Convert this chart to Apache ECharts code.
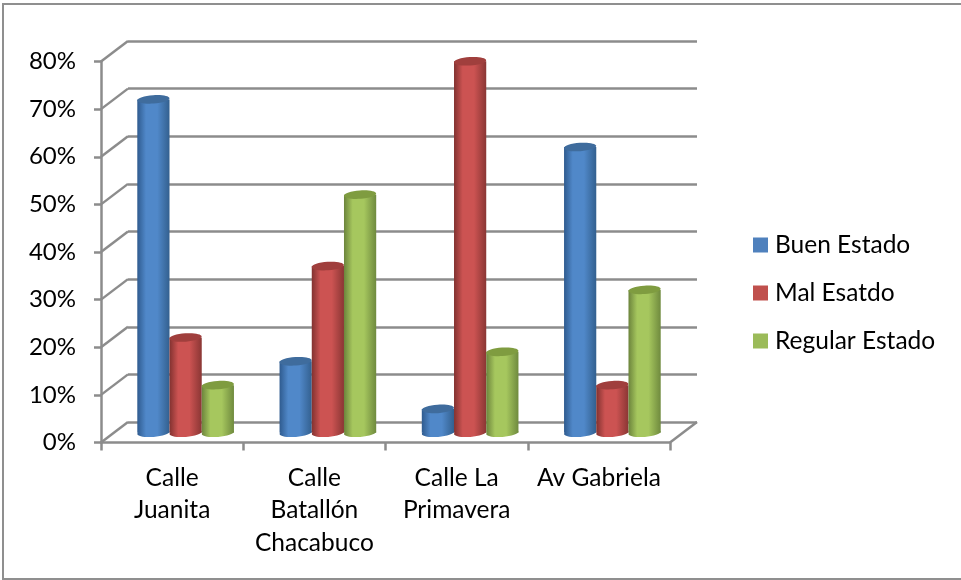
<!DOCTYPE html>
<html>
<head>
<meta charset="utf-8">
<style>html,body{margin:0;padding:0;background:#fff}#c{width:961px;height:580px}</style>
<script src="https://cdn.jsdelivr.net/npm/echarts@6/dist/echarts.min.js"></script>
</head>
<body>
<div id="c"></div>
<script>
var categories = ['Calle\nJuanita', 'Calle\nBatallón\nChacabuco', 'Calle La\nPrimavera', 'Av Gabriela'];
var buenEstado = [70, 15, 5, 60];
var malEstado = [20, 35, 78, 10];
var regularEstado = [10, 50, 17, 30];
var yTicks = [0, 10, 20, 30, 40, 50, 60, 70, 80];
var FONT = 'Lato, "Open Sans", sans-serif';
var LINE = '#8c8c8c';
var LW = 2.5;
var DX = 27, DY = -20.5;

var chart = echarts.init(document.getElementById('c'), null, {renderer: 'canvas'});

function cylinder(seriesPos, edge, mid, edge2, cap) {
  return function (params, api) {
    var i = api.value(0);
    var top = api.coord([i, api.value(1)]);
    var base = api.coord([i, 0]);
    var cat = api.size([1, 0])[0];
    var w = cat * 0.2265;
    var rx = w / 2, ry = 4.2;
    var cx = top[0] + (seriesPos - 1) * w + DX / 2;
    var ty = top[1] + DY / 2 + 0.5;
    var by = base[1] + DY / 2 + 0.5;
    var grad = new echarts.graphic.LinearGradient(0, 0, 1, 0, [
      {offset: 0, color: edge}, {offset: 0.27, color: mid}, {offset: 0.62, color: mid},
      {offset: 1, color: edge2}
    ]);
    return {
      type: 'group',
      children: [
        {type: 'ellipse', shape: {cx: cx, cy: by, rx: rx, ry: ry}, style: {fill: grad},
         rotation: 0.07, originX: cx, originY: by},
        {type: 'rect', shape: {x: cx - rx, y: ty, width: w, height: by - ty}, style: {fill: grad}},
        {type: 'ellipse', shape: {cx: cx, cy: ty, rx: rx, ry: ry}, style: {fill: cap},
         rotation: 0.07, originX: cx, originY: ty}
      ]
    };
  };
}

function cylSeries(name, data, pos, colour, edge, mid, edge2, cap) {
  return {
    type: 'custom', name: name, xAxisIndex: 0, yAxisIndex: 0, z: 5 + pos,
    itemStyle: {color: colour},
    data: data.map(function (v, i) { return [i, v]; }),
    encode: {x: 0, y: 1},
    renderItem: cylinder(pos, edge, mid, edge2, cap),
    clip: false, silent: true
  };
}

chart.setOption({
  animation: false,
  backgroundColor: '#ffffff',
  textStyle: {fontFamily: FONT},
  graphic: [{
    type: 'rect', shape: {x: 3, y: 4, width: 975, height: 575},
    style: {fill: 'none', stroke: '#8f8f8f', lineWidth: 2}, silent: true, z: 0
  }],
  grid: [
    {left: 101, top: 61.5, width: 569, height: 381, containLabel: false},
    {left: 101 + DX, top: 61.5 + DY, width: 569, height: 381, containLabel: false}
  ],
  xAxis: [
    {type: 'category', gridIndex: 0, data: categories,
     axisLine: {show: true, lineStyle: {color: LINE, width: LW}},
     axisTick: {show: true, alignWithLabel: false, length: 8, lineStyle: {color: LINE, width: LW}},
     axisLabel: {color: '#000', fontSize: 24.5, fontFamily: FONT, lineHeight: 32.5, margin: 19, interval: 0}},
    {type: 'category', gridIndex: 1, data: categories, show: false}
  ],
  yAxis: [
    {type: 'value', gridIndex: 0, min: 0, max: 80, interval: 10,
     axisLine: {show: true, lineStyle: {color: LINE, width: LW}},
     axisTick: {show: true, length: 7, lineStyle: {color: LINE, width: LW}},
     axisLabel: {color: '#000', fontSize: 24, fontFamily: FONT, margin: 25, formatter: '{value}%'},
     splitLine: {show: false}},
    {type: 'value', gridIndex: 1, min: 0, max: 80, interval: 10,
     axisLine: {show: false}, axisTick: {show: false}, axisLabel: {show: false},
     splitLine: {show: true, lineStyle: {color: LINE, width: LW}}}
  ],
  legend: {
    orient: 'vertical', left: 748, top: 226,
    itemWidth: 15, itemHeight: 15, itemGap: 20, icon: 'rect',
    textStyle: {color: '#000', fontSize: 24.5, fontFamily: FONT, padding: [0, 0, 0, 2], lineHeight: 28},
    data: ['Buen Estado', 'Mal Esatdo', 'Regular Estado']
  },
  series: [
    {
      type: 'custom', name: 'pared', xAxisIndex: 0, yAxisIndex: 0, z: 1, silent: true, clip: false,
      data: yTicks.map(function (v) { return [0, v]; }),
      encode: {x: 0, y: 1},
      renderItem: function (params, api) {
        var p = api.coord([0, api.value(1)]);
        var x = params.coordSys.x;
        return {type: 'line', shape: {x1: x, y1: p[1], x2: x + DX, y2: p[1] + DY},
                style: {stroke: LINE, lineWidth: LW, fill: 'none'}};
      }
    },
    {
      type: 'custom', name: 'piso', xAxisIndex: 0, yAxisIndex: 0, z: 1, silent: true, clip: false,
      data: [[categories.length - 1, 0]],
      encode: {x: 0, y: 1},
      renderItem: function (params, api) {
        var p = api.coord([api.value(0), api.value(1)]);
        var x = params.coordSys.x + params.coordSys.width;
        return {type: 'line', shape: {x1: x, y1: p[1], x2: x + DX, y2: p[1] + DY},
                style: {stroke: LINE, lineWidth: LW, fill: 'none'}};
      }
    },
    cylSeries('Buen Estado', buenEstado, 0, '#4f81bd', '#2f5b8f', '#5088c9', '#33608f', '#3f6c9d'),
    cylSeries('Mal Esatdo', malEstado, 1, '#c0504d', '#823230', '#cc5352', '#8a3634', '#a03f3d'),
    cylSeries('Regular Estado', regularEstado, 2, '#9bbb59', '#6c843c', '#a6c75e', '#6f8a3e', '#7f9c40')
  ]
});
</script>
</body>
</html>
